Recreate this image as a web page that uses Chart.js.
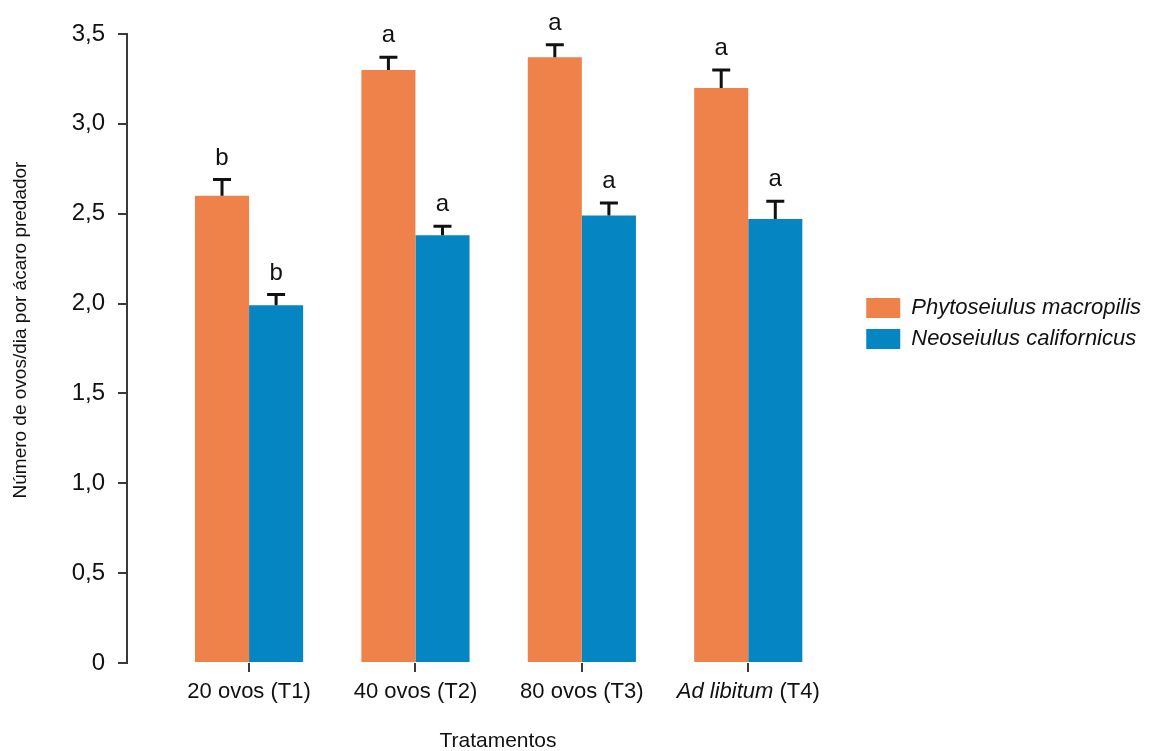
<!DOCTYPE html>
<html lang="pt">
<head>
<meta charset="utf-8">
<title>Número de ovos/dia por ácaro predador</title>
<script src="https://cdn.jsdelivr.net/npm/chart.js@4.4.1/dist/chart.umd.min.js"></script>
<style>
  html, body { margin: 0; padding: 0; background: #ffffff; }
  #wrap { width: 1149px; height: 751px; }
</style>
</head>
<body>
<div id="wrap"><canvas id="chart" width="1149" height="751"></canvas></div>
<script>
// Tratamentos (eixo x)
const categories = ['20 ovos (T1)', '40 ovos (T2)', '80 ovos (T3)', 'Ad libitum (T4)'];
// Parte do rótulo escrita em itálico
const categoryItalic = ['', '', '', 'Ad libitum'];

// Médias e erro-padrão: Phytoseiulus macropilis
const phytoseiulus = [2.60, 3.30, 3.37, 3.20];
const phytoseiulusErr = [0.09, 0.07, 0.07, 0.10];
const phytoseiulusLetters = ['b', 'a', 'a', 'a'];

// Médias e erro-padrão: Neoseiulus californicus
const neoseiulus = [1.99, 2.38, 2.49, 2.47];
const neoseiulusErr = [0.06, 0.05, 0.07, 0.10];
const neoseiulusLetters = ['b', 'a', 'a', 'a'];

// Marcas do eixo y
const yTicks = [0, 0.5, 1.0, 1.5, 2.0, 2.5, 3.0, 3.5];

const FONT = '"Liberation Sans", Arial, Helvetica, sans-serif';
const INK = '#111111';
const AXIS = '#3a3a3a';
const ORANGE = '#EF824B';
const BLUE = '#0585C1';
const LABEL_SIZE = 22;

// Espaços iniciais afastam o texto do início da caixa do título
const pad = (n, s) => ' '.repeat(n) + s;

const toPoints = vals => vals.map((v, i) => ({ x: i + 1, y: v }));

// Barras de erro (só para cima) e letras de significância
const errorBarPlugin = {
  id: 'errorBars',
  afterDatasetsDraw(chart) {
    const ctx = chart.ctx;
    const yScale = chart.scales.y;
    chart.data.datasets.forEach((ds, di) => {
      const meta = chart.getDatasetMeta(di);
      meta.data.forEach((bar, i) => {
        const top = yScale.getPixelForValue(ds.data[i].y + ds.errors[i]);
        const x = bar.x;
        ctx.save();
        ctx.strokeStyle = '#111';
        ctx.lineWidth = 3;
        ctx.lineCap = 'butt';
        ctx.beginPath();
        ctx.moveTo(x, bar.y);
        ctx.lineTo(x, top);
        ctx.moveTo(x - 9, top);
        ctx.lineTo(x + 9, top);
        ctx.stroke();
        ctx.fillStyle = INK;
        ctx.font = '24px ' + FONT;
        ctx.textAlign = 'center';
        ctx.textBaseline = 'alphabetic';
        ctx.fillText(ds.letters[i], x, top - 15);
        ctx.restore();
      });
    });
  }
};

// Rótulos do eixo x com trecho em itálico
const xLabelPlugin = {
  id: 'xLabels',
  afterDraw(chart) {
    const ctx = chart.ctx;
    const xScale = chart.scales.x;
    const y = xScale.top + 29;
    ctx.save();
    ctx.fillStyle = INK;
    ctx.textBaseline = 'middle';
    ctx.textAlign = 'left';
    categories.forEach((label, i) => {
      const cx = xScale.getPixelForValue(i + 1);
      const it = categoryItalic[i];
      const rest = it ? label.slice(it.length) : label;
      ctx.font = 'italic ' + LABEL_SIZE + 'px ' + FONT;
      const wIt = it ? ctx.measureText(it).width : 0;
      ctx.font = LABEL_SIZE + 'px ' + FONT;
      const wRest = ctx.measureText(rest).width;
      let x = cx - (wIt + wRest) / 2;
      if (it) {
        ctx.font = 'italic ' + LABEL_SIZE + 'px ' + FONT;
        ctx.fillText(it, x, y);
        x += wIt;
      }
      ctx.font = LABEL_SIZE + 'px ' + FONT;
      ctx.fillText(rest, x, y);
    });
    ctx.restore();
  }
};

new Chart(document.getElementById('chart'), {
  type: 'bar',
  data: {
    datasets: [
      {
        label: 'Phytoseiulus macropilis',
        data: toPoints(phytoseiulus),
        errors: phytoseiulusErr,
        letters: phytoseiulusLetters,
        backgroundColor: ORANGE,
        borderWidth: 0,
        categoryPercentage: 0.65,
        barPercentage: 1.0
      },
      {
        label: 'Neoseiulus californicus',
        data: toPoints(neoseiulus),
        errors: neoseiulusErr,
        letters: neoseiulusLetters,
        backgroundColor: BLUE,
        borderWidth: 0,
        categoryPercentage: 0.65,
        barPercentage: 1.0
      }
    ]
  },
  options: {
    responsive: false,
    devicePixelRatio: 1,
    animation: false,
    layout: { padding: { left: 0, top: 34, right: 6, bottom: 0 } },
    plugins: {
      tooltip: { enabled: false },
      legend: {
        position: 'right',
        align: 'start',
        fullSize: false,
        title: { display: true, text: ' ', font: { size: 10 }, padding: { top: 242, bottom: 0 } },
        labels: {
          boxWidth: 34,
          boxHeight: 20,
          padding: 9,
          color: INK,
          font: { family: FONT, size: 22, style: 'italic' }
        }
      }
    },
    scales: {
      x: {
        type: 'linear',
        min: 0.2665,
        max: 4.655,
        offset: false,
        afterBuildTicks(scale) {
          scale.ticks = categories.map((_, i) => ({ value: i + 1 }));
        },
        afterFit(scale) { scale.height = 88; },
        ticks: {
          color: 'rgba(0,0,0,0)',
          font: { family: FONT, size: LABEL_SIZE },
          maxRotation: 0,
          autoSkip: false,
          callback: (v) => categories[Math.round(v) - 1]
        },
        grid: { offset: false, drawOnChartArea: false, drawTicks: true, tickLength: 9, color: AXIS, lineWidth: 2 },
        border: { display: false },
        title: {
          display: true,
          text: pad(2, 'Tratamentos'),
          color: INK,
          font: { family: FONT, size: 21 },
          padding: { top: 0, bottom: -3 }
        }
      },
      y: {
        min: 0,
        max: 3.5,
        afterFit(scale) { scale.width = 127; },
        afterBuildTicks(scale) {
          scale.ticks = yTicks.map(v => ({ value: v }));
        },
        ticks: {
          color: INK,
          padding: 13,
          font: { family: FONT, size: 24 },
          callback: (v) => (v === 0 ? '0' : v.toFixed(1).replace('.', ','))
        },
        grid: { drawOnChartArea: false, drawTicks: true, tickLength: 9, color: AXIS, lineWidth: 2 },
        border: { display: true, color: AXIS, width: 2 },
        title: {
          display: true,
          text: pad(7, 'Número de ovos/dia por ácaro predador'),
          color: INK,
          font: { family: FONT, size: 19 },
          padding: { top: 9, bottom: 0 }
        }
      }
    }
  },
  plugins: [errorBarPlugin, xLabelPlugin]
});
</script>
</body>
</html>
